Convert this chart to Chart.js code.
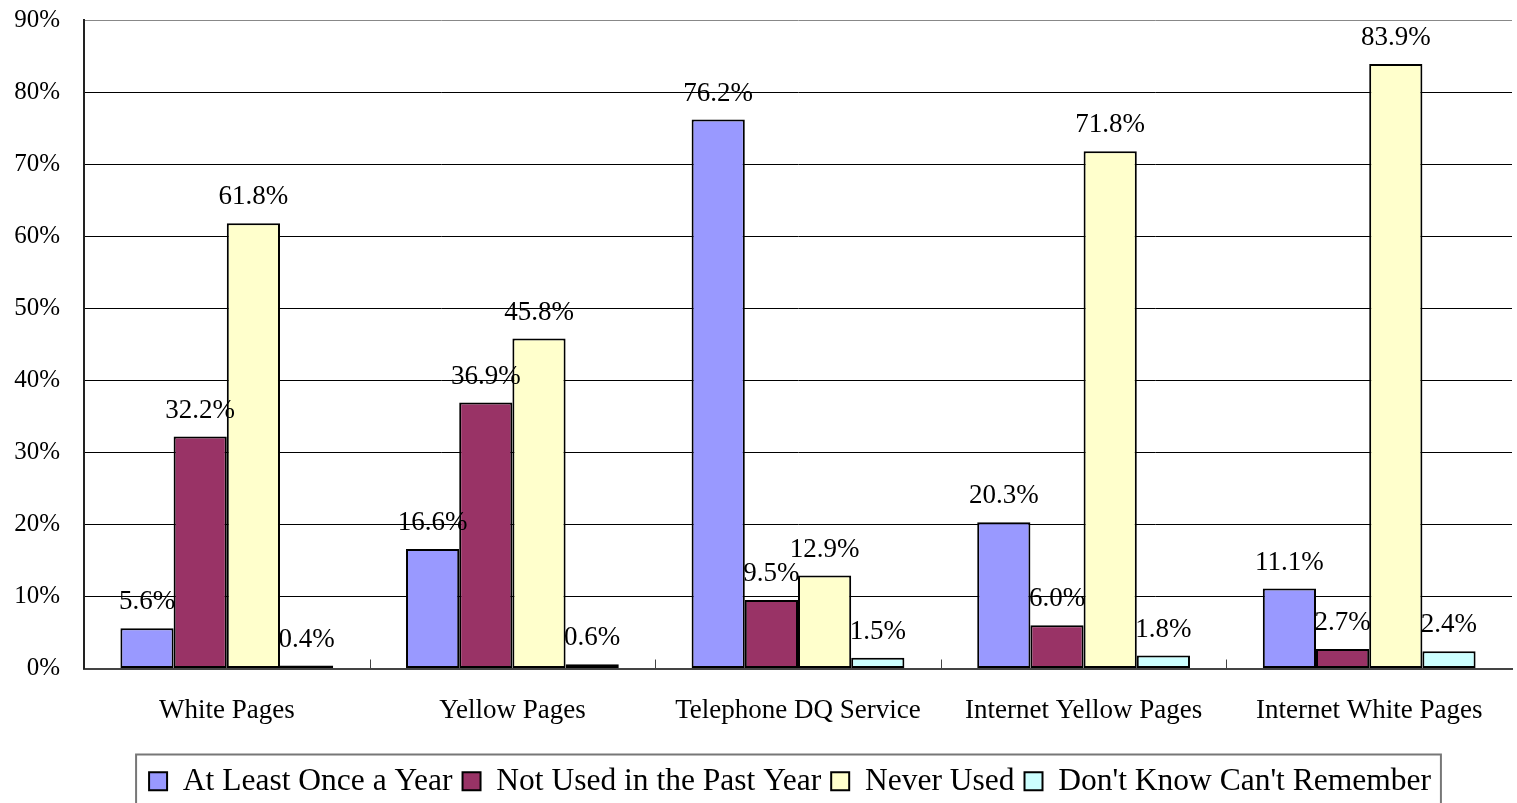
<!DOCTYPE html>
<html>
<head>
<meta charset="utf-8">
<script src="https://cdn.jsdelivr.net/npm/chart.js@4.4.1/dist/chart.umd.min.js"></script>
<style>
  body { margin: 0; background: #fff; }
  canvas { display: block; }
</style>
</head>
<body>
<canvas id="usage" width="1517" height="803"></canvas>
<script>
// directory service usage by type
const categories = ['White Pages', 'Yellow Pages', 'Telephone DQ Service', 'Internet Yellow Pages', 'Internet White Pages'];
const atLeastOnce = [5.6, 16.6, 76.2, 20.3, 11.1];
const notUsedPastYear = [32.2, 36.9, 9.5, 6.0, 2.7];
const neverUsed = [61.8, 45.8, 12.9, 71.8, 83.9];
const dontKnow = [0.4, 0.6, 1.5, 1.8, 2.4];

const serif = '"Liberation Serif", "Times New Roman", serif';

// value labels above each bar
const barLabels = {
    id: 'barLabels',
    afterDatasetsDraw(chart) {
        const ctx = chart.ctx;
        ctx.save();
        ctx.font = '27px ' + serif;
        ctx.fillStyle = '#000';
        ctx.textAlign = 'center';
        ctx.textBaseline = 'middle';
        chart.data.datasets.forEach((ds, i) => {
            chart.getDatasetMeta(i).data.forEach((bar, j) => {
                ctx.fillText(ds.data[j].toFixed(1) + '%', bar.x, bar.y - 26);
            });
        });
        ctx.restore();
    }
};

// push the legend a bit to the right of centre
const legendShift = {
    id: 'legendShift',
    afterUpdate(chart) {
        const lg = chart.legend;
        lg.left += 34;
        lg.right += 34;
        lg.adjustHitBoxes();
    }
};

// inward tick marks between categories + frame around the legend
const extras = {
    id: 'extras',
    afterDraw(chart) {
        const ctx = chart.ctx;
        const x = chart.scales.x;
        const area = chart.chartArea;
        ctx.save();
        ctx.strokeStyle = '#444';
        ctx.lineWidth = 1;
        for (let i = 1; i < categories.length; i++) {
            const px = Math.round((x.getPixelForValue(i - 1) + x.getPixelForValue(i)) / 2) + 0.5;
            ctx.beginPath();
            ctx.moveTo(px, area.bottom - 9);
            ctx.lineTo(px, area.bottom);
            ctx.stroke();
        }
        const boxes = chart.legend.legendHitBoxes;
        if (boxes && boxes.length) {
            const left = Math.min(...boxes.map(b => b.left)) - 13;
            const right = Math.max(...boxes.map(b => b.left + b.width)) + 10;
            ctx.strokeStyle = '#777';
            ctx.lineWidth = 2;
            ctx.strokeRect(left, chart.legend.top - 1, right - left, chart.height);
        }
        ctx.restore();
    }
};

const makeSet = (label, data, color) => ({
    label,
    data,
    backgroundColor: color,
    borderColor: '#000',
    borderWidth: 2,
    borderSkipped: false,
    categoryPercentage: 0.745,
    barPercentage: 1.0
});

new Chart(document.getElementById('usage'), {
    type: 'bar',
    data: {
        labels: categories,
        datasets: [
            makeSet('At Least Once a Year', atLeastOnce, '#9999FF'),
            makeSet('Not Used in the Past Year', notUsedPastYear, '#993366'),
            makeSet('Never Used', neverUsed, '#FFFFCC'),
            makeSet("Don't Know Can't Remember", dontKnow, '#CCFFFF')
        ]
    },
    options: {
        responsive: false,
        animation: false,
        layout: { padding: { top: 20, right: 5, left: 0, bottom: -4 } },
        plugins: {
            tooltip: { enabled: false },
            legend: {
                position: 'bottom',
                labels: {
                    color: '#000',
                    font: { family: serif, size: 31.5 },
                    boxWidth: 18,
                    boxHeight: 18,
                    padding: 10
                }
            }
        },
        scales: {
            x: {
                grid: { display: false },
                border: { color: '#444', width: 2 },
                ticks: { color: '#000', font: { family: serif, size: 27 }, padding: 18, maxRotation: 0 },
                afterFit(scale) { scale.height = 87; }
            },
            y: {
                min: 0,
                max: 90,
                grid: {
                    color: ctx => ctx.tick.value === 90 ? '#888' : '#000',
                    lineWidth: 1,
                    drawTicks: false
                },
                border: { color: '#222', width: 2 },
                ticks: {
                    stepSize: 10,
                    color: '#000',
                    padding: 24,
                    font: { family: serif, size: 25 },
                    callback: v => v + '%'
                },
                afterFit(scale) {
                    scale.width = 84;
                    scale.paddingTop = 0;
                    scale.paddingBottom = 0;
                }
            }
        }
    },
    plugins: [legendShift, barLabels, extras]
});
</script>
</body>
</html>
